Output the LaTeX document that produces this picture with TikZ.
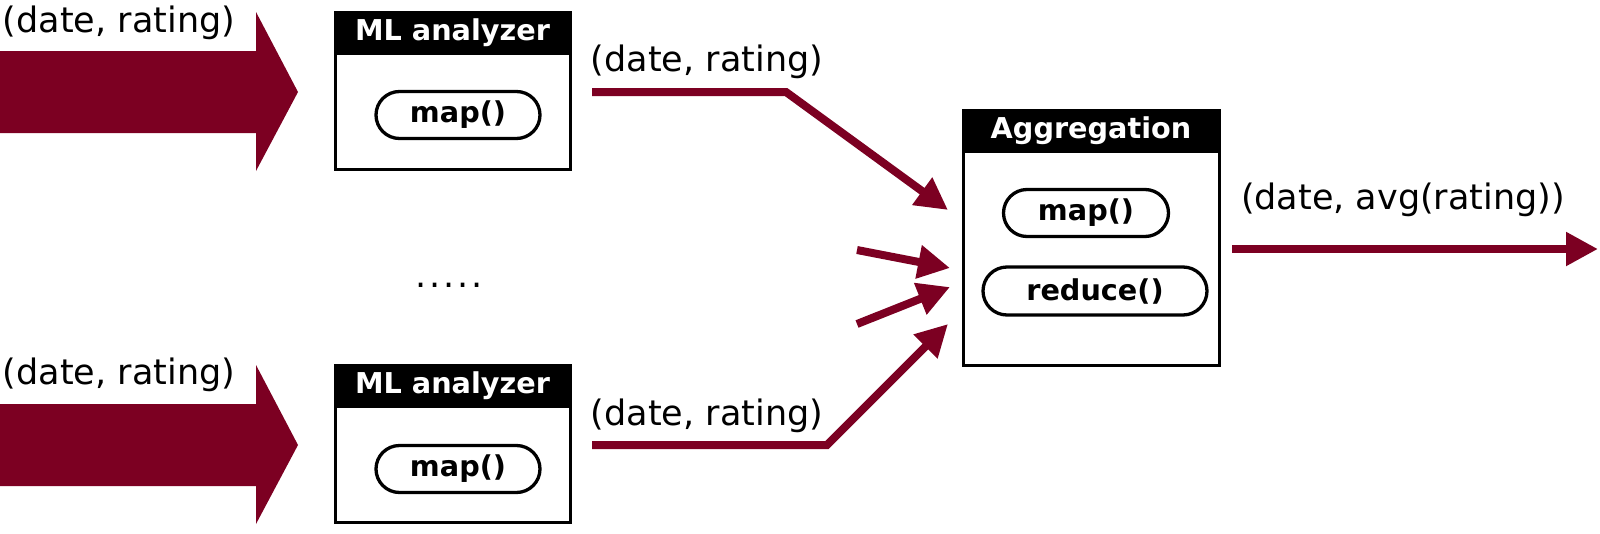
\documentclass[tikz,border=0pt]{standalone}
\usepackage{fontspec}
\setmainfont{DejaVu Sans}
\usetikzlibrary{arrows.meta,shapes.misc}
\definecolor{wine}{RGB}{124,0,34}
\begin{document}
\begin{tikzpicture}[x=1pt,y=-1pt,
  lbl/.style={font=\fontsize{35}{40}\selectfont, inner sep=0pt},
  box/.style={draw=black, line width=3pt, fill=white, inner sep=0pt},
  hdr/.style={fill=black, draw=black, line width=3pt, text=white, font=\fontsize{28.7}{32}\bfseries\selectfont, inner sep=0pt},
  pill/.style={rounded rectangle, draw=black, line width=3.3pt, font=\fontsize{28.7}{32}\bfseries\selectfont, inner sep=0pt},
  flow/.style={draw=wine, line width=8pt, -{Triangle[length=32pt,width=32pt]}},
  bigarrow/.style={fill=wine}
]
\useasboundingbox (0,0) rectangle (1600,533);

% big input arrows
\fill[bigarrow] (0,51) -- (256,51) -- (256,12) -- (298,92) -- (256,171) -- (256,133) -- (0,133) -- cycle;
\fill[bigarrow] (0,404) -- (256,404) -- (256,365) -- (298,445) -- (256,524) -- (256,486) -- (0,486) -- cycle;
\node[lbl] (in1) at (119,23) {(date, rating)};
\node[lbl] (in2) at (119,375) {(date, rating)};

% ML analyzer boxes
\node[box, minimum width=235pt, minimum height=157pt] (ml1) at (452.5,90.5) {};
\node[hdr, minimum width=235pt, minimum height=41pt, anchor=north] (ml1h) at (ml1.north) {ML analyzer};
\node[pill, minimum width=164pt, minimum height=47pt] (ml1m) at (458,115) {map()};

\node[box, minimum width=235pt, minimum height=157pt] (ml2) at (452.5,443.5) {};
\node[hdr, minimum width=235pt, minimum height=41pt, anchor=north] (ml2h) at (ml2.north) {ML analyzer};
\node[pill, minimum width=164pt, minimum height=47pt] (ml2m) at (458,469) {map()};

\node[lbl] (dots) at (449,285) {.\kern3pt.\kern3pt.\kern3pt.\kern3pt.};

% Aggregation box
\node[box, minimum width=256pt, minimum height=255pt] (agg) at (1091,237.5) {};
\node[hdr, minimum width=256pt, minimum height=41pt, anchor=north] (aggh) at (agg.north) {Aggregation};
\node[pill, minimum width=165pt, minimum height=47pt] (aggm) at (1086,213) {map()};
\node[pill, minimum width=224pt, minimum height=48pt] (aggr) at (1095,291) {reduce()};

% connectors
\coordinate (s1) at (592,92);
\coordinate (b1) at (786,92);
\coordinate (t1) at (948,210);
\coordinate (s2) at (592,445);
\coordinate (b2) at (827,445);
\coordinate (t2) at (948,324);
\coordinate (s3) at (857,250);
\coordinate (t3) at (950,268);
\coordinate (s4) at (857,324);
\coordinate (t4) at (950,287);
\coordinate (so) at (1232,249);
\coordinate (to) at (1598,249);

\draw[flow] (s1) -- (b1) -- (t1);
\draw[flow] (s2) -- (b2) -- (t2);
\draw[flow] (s3) -- (t3);
\draw[flow] (s4) -- (t4);
\draw[flow] (so) -- (to);

\node[lbl] (l1) at (707,62) {(date, rating)};
\node[lbl] (l2) at (707,416) {(date, rating)};
\node[lbl] (lo) at (1403,200) {(date, avg(rating))};
\end{tikzpicture}
\end{document}
